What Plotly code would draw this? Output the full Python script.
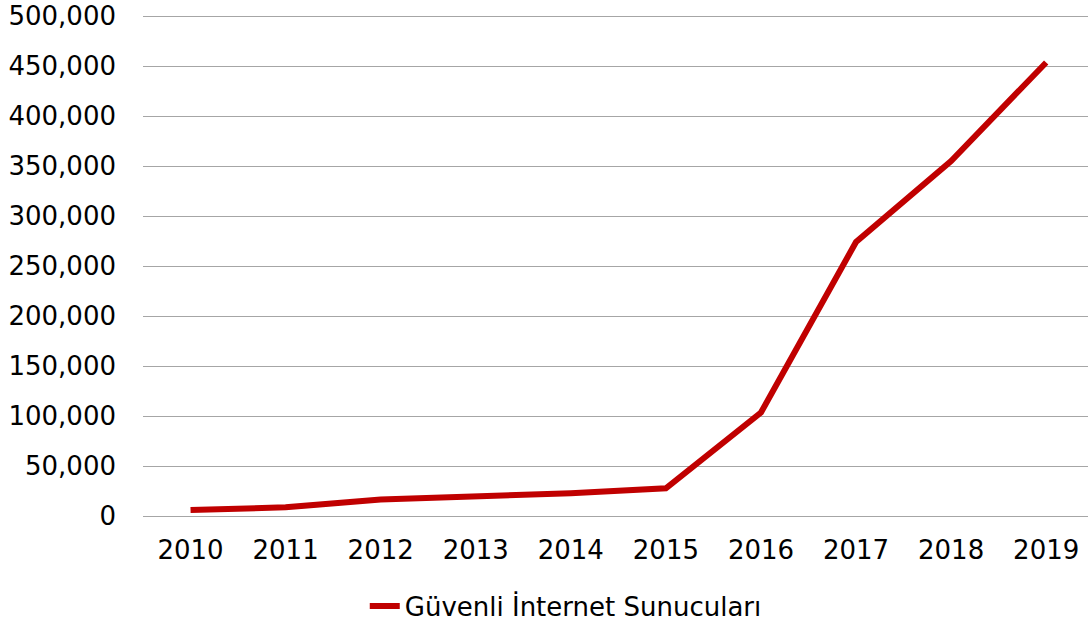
import plotly.graph_objects as go

years = ["2010", "2011", "2012", "2013", "2014", "2015", "2016", "2017", "2018", "2019"]
servers = [6000, 8700, 16500, 19500, 22700, 27700, 103500, 274000, 355000, 453500]
series_name = "Güvenli İnternet Sunucuları"
y_ticks = list(range(0, 500001, 50000))

fig = go.Figure()
fig.add_trace(go.Scatter(
    x=years, y=servers, mode="lines", name=series_name,
    line=dict(color="#C00000", width=6),
))

font_family = "Verdana, DejaVu Sans, sans-serif"
fig.update_layout(
    width=1088, height=623,
    margin=dict(l=143, r=0, t=11, b=107, pad=0, autoexpand=False),
    paper_bgcolor="white", plot_bgcolor="white",
    font=dict(family=font_family, size=26, color="#000000"),
    showlegend=True,
    legend=dict(orientation="h", xref="container", yref="container",
                x=0.520, xanchor="center", y=0.027, yanchor="middle",
                font=dict(size=26), bgcolor="rgba(0,0,0,0)"),
    xaxis=dict(type="category", range=[-0.5, 9.44], showgrid=False, showline=False,
               ticks="", ticklabelstandoff=16, tickfont=dict(size=26),
               automargin=False),
    yaxis=dict(range=[0, 505000], tickvals=y_ticks, tickformat=",d",
               showgrid=True, gridcolor="#A6A6A6", gridwidth=1.3,
               zeroline=True, zerolinecolor="#A6A6A6", zerolinewidth=1.3,
               showline=False, ticks="", ticklabelstandoff=26,
               ticklabeloverflow="allow",
               tickfont=dict(size=26), automargin=False),
)

fig.write_html("out.html",
               config={"displayModeBar": False},
               post_script="document.body.style.margin='0';document.body.style.overflow='hidden';")
